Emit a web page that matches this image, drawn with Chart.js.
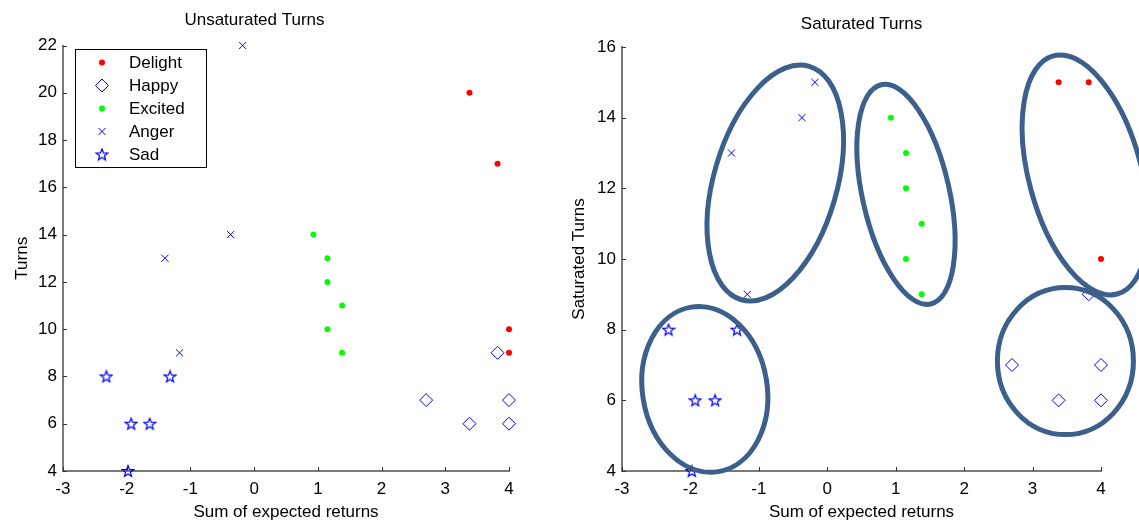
<!DOCTYPE html>
<html>
<head>
<meta charset="utf-8">
<script src="https://cdn.jsdelivr.net/npm/chart.js@4.4.1/dist/chart.umd.min.js"></script>
<style>
  body { margin: 0; background: #fff; }
  .wrap { position: absolute; top: 0; height: 521px; }
  #leftWrap { left: 0; width: 560px; }
  #rightWrap { left: 560px; width: 579px; }
</style>
</head>
<body>
<div class="wrap" id="leftWrap"><canvas id="unsatCanvas"></canvas></div>
<div class="wrap" id="rightWrap"><canvas id="satCanvas"></canvas></div>
<script>
// ── Data ── //
const xTickValues = [-3, -2, -1, 0, 1, 2, 3, 4];
const unsatYTicks = [4, 6, 8, 10, 12, 14, 16, 18, 20, 22];
const satYTicks = [4, 6, 8, 10, 12, 14, 16];

const delightX = [3.38, 3.82, 4, 4];
const delightUnsat = [20, 17, 10, 9];
const delightSat = [15, 15, 10, 9];

const happyX = [3.82, 2.7, 3.38, 4, 4];
const happyY = [9, 7, 6, 7, 6];

const excitedX = [0.93, 1.15, 1.15, 1.38, 1.15, 1.38];
const excitedY = [14, 13, 12, 11, 10, 9];

const angerX = [-0.18, -0.37, -1.4, -1.17];
const angerUnsat = [22, 14, 13, 9];
const angerSat = [15, 14, 13, 9];

const sadX = [-2.32, -1.32, -1.93, -1.64, -1.98];
const sadY = [8, 8, 6, 6, 4];

// cluster ellipses on the saturated plot (data units, angle in degrees)
const ellipseCx = [-0.76, 1.15, 3.77, -1.79, 3.48];
const ellipseCy = [12.15, 11.83, 12.38, 6.31, 7.11];
const ellipseRx = [0.90, 0.635, 0.823, 0.911, 0.994];
const ellipseRy = [3.44, 3.18, 3.49, 2.36, 2.08];
const ellipseAngle = [16.2, -12.7, -15, -9.4, 0];

const FONT = '"Liberation Sans", Arial, sans-serif';
const AXIS_GREY = '#7a7a7a';

// ── Pentagram marker ── //
function makeStar(size, color) {
  const c = document.createElement('canvas');
  c.width = c.height = size;
  const g = c.getContext('2d');
  const r = size / 2 - 1;
  const ri = r * 0.42;
  g.beginPath();
  for (let k = 0; k < 10; k++) {
    const rr = k % 2 ? ri : r;
    const a = -Math.PI / 2 + k * Math.PI / 5;
    g.lineTo(size / 2 + rr * Math.cos(a), size / 2 + 0.5 + rr * Math.sin(a));
  }
  g.closePath();
  g.strokeStyle = color;
  g.lineWidth = 1.2;
  g.stroke();
  return c;
}
const starImg = makeStar(14, '#0000ff');

function pts(xs, ys) {
  return xs.map((x, i) => ({ x: x, y: ys[i] }));
}

function emotionSets(delY, angY) {
  return [
    { label: 'Delight', data: pts(delightX, delY), pointStyle: 'circle', pointRadius: 3,
      backgroundColor: '#ff0000', borderColor: '#ff0000', borderWidth: 0 },
    { label: 'Happy', data: pts(happyX, happyY), pointStyle: 'rectRot', pointRadius: 6.5,
      backgroundColor: 'rgba(0,0,0,0)', borderColor: '#0000ff', borderWidth: 1 },
    { label: 'Excited', data: pts(excitedX, excitedY), pointStyle: 'circle', pointRadius: 3,
      backgroundColor: '#00ff00', borderColor: '#00ff00', borderWidth: 0 },
    { label: 'Anger', data: pts(angerX, angY), pointStyle: 'crossRot', pointRadius: 5,
      backgroundColor: '#0000ff', borderColor: '#0000ff', borderWidth: 1 },
    { label: 'Sad', data: pts(sadX, sadY), pointStyle: starImg, pointRadius: 7,
      backgroundColor: '#0000ff', borderColor: '#0000ff', borderWidth: 1 },
  ].map(ds => Object.assign(ds, { pointHoverRadius: ds.pointRadius, clip: false }));
}

// ── Inward tick marks ── //
const innerTicks = {
  id: 'innerTicks',
  afterDraw(chart) {
    const { ctx, chartArea, scales } = chart;
    ctx.save();
    ctx.strokeStyle = '#333';
    ctx.lineWidth = 1;
    ctx.beginPath();
    scales.x.ticks.forEach(t => {
      const px = Math.round(scales.x.getPixelForValue(t.value)) + 0.5;
      ctx.moveTo(px, chartArea.bottom);
      ctx.lineTo(px, chartArea.bottom - 4);
    });
    scales.y.ticks.forEach(t => {
      const py = Math.round(scales.y.getPixelForValue(t.value)) + 0.5;
      ctx.moveTo(chartArea.left, py);
      ctx.lineTo(chartArea.left + 4, py);
    });
    ctx.stroke();
    ctx.restore();
  }
};

// ── Legend box (left plot) ── //
const legendBox = {
  id: 'legendBox',
  afterDraw(chart) {
    const { ctx, chartArea } = chart;
    const left = chartArea.left + 12;
    const top = chartArea.top + 3.5;
    ctx.save();
    ctx.fillStyle = '#fff';
    ctx.fillRect(left, top, 131, 118);
    ctx.strokeStyle = '#000';
    ctx.lineWidth = 1;
    ctx.strokeRect(left + 0.5, top + 0.5, 131, 118);
    chart.data.datasets.forEach((ds, i) => {
      const y = top + 13.5 + i * 23;
      ctx.fillStyle = ds.backgroundColor;
      ctx.strokeStyle = ds.borderColor;
      ctx.lineWidth = ds.borderWidth;
      Chart.helpers.drawPoint(ctx, {
        pointStyle: ds.pointStyle, radius: ds.pointRadius,
        borderWidth: ds.borderWidth, rotation: 0
      }, left + 27, y);
      ctx.fillStyle = '#000';
      ctx.font = '17px ' + FONT;
      ctx.textBaseline = 'middle';
      ctx.textAlign = 'left';
      ctx.fillText(ds.label, left + 54, y + 1);
    });
    ctx.restore();
  }
};

// ── Cluster ellipses (right plot) ── //
const clusterEllipses = {
  id: 'clusterEllipses',
  afterDatasetsDraw(chart) {
    const { ctx, scales: { x, y } } = chart;
    ctx.save();
    ctx.strokeStyle = '#3d5f8c';
    ctx.lineWidth = 5;
    ellipseCx.forEach((cx, i) => {
      const px = x.getPixelForValue(cx);
      const py = y.getPixelForValue(ellipseCy[i]);
      const rx = Math.abs(x.getPixelForValue(cx + ellipseRx[i]) - px);
      const ry = Math.abs(y.getPixelForValue(ellipseCy[i] + ellipseRy[i]) - py);
      ctx.beginPath();
      ctx.ellipse(px, py, rx, ry, ellipseAngle[i] * Math.PI / 180, 0, Math.PI * 2);
      ctx.stroke();
    });
    ctx.restore();
  }
};

// ── Shared options ── //
function buildOptions(cfg) {
  return {
    responsive: true,
    maintainAspectRatio: false,
    animation: false,
    events: [],
    layout: { padding: { left: 0, right: cfg.rightPad, top: 0, bottom: -1.5 } },
    scales: {
      x: {
        type: 'linear',
        min: -3,
        max: 4,
        afterBuildTicks: s => { s.ticks = xTickValues.map(v => ({ value: v })); },
        afterFit: s => { s.height = 51.5; },
        grid: { display: false, drawTicks: false },
        border: { display: true, color: AXIS_GREY, width: 2 },
        ticks: { color: '#000', font: { family: FONT, size: 17 }, padding: 8, maxRotation: 0 },
        title: {
          display: true, text: 'Sum of expected returns', color: '#000',
          font: { family: FONT, size: 17 }, padding: { top: 0, bottom: 0 },
        },
      },
      y: {
        type: 'linear',
        min: cfg.yTicks[0],
        max: cfg.yTicks[cfg.yTicks.length - 1],
        afterBuildTicks: s => { s.ticks = cfg.yTicks.map(v => ({ value: v })); },
        afterFit: s => { s.width = cfg.yWidth; },
        grid: { display: false, drawTicks: false },
        border: { display: true, color: AXIS_GREY, width: 2 },
        ticks: { color: '#000', font: { family: FONT, size: 17 }, padding: 6 },
        title: {
          display: true, text: cfg.yTitle, color: '#000',
          font: { family: FONT, size: 17 }, padding: { top: cfg.yTitlePad, bottom: 0 },
        },
      },
    },
    plugins: {
      legend: { display: false },
      tooltip: { enabled: false },
      title: {
        display: true, text: cfg.title, color: '#000', fullSize: cfg.fullSize,
        font: { family: FONT, size: 17, weight: 'normal' },
        padding: { top: cfg.titleTop, bottom: cfg.titleBottom },
      },
    },
  };
}

// ── Unsaturated Turns ── //
new Chart(document.getElementById('unsatCanvas'), {
  type: 'scatter',
  data: { datasets: emotionSets(delightUnsat, angerUnsat) },
  options: buildOptions({
    title: 'Unsaturated Turns', yTitle: 'Turns', yTicks: unsatYTicks,
    rightPad: 51, yWidth: 63, yTitlePad: 12.5, fullSize: true,
    titleTop: 9.8, titleBottom: 15.3,
  }),
  plugins: [innerTicks, legendBox],
});

// ── Saturated Turns ── //
new Chart(document.getElementById('satCanvas'), {
  type: 'scatter',
  data: { datasets: emotionSets(delightSat, angerSat) },
  options: buildOptions({
    title: 'Saturated Turns', yTitle: 'Saturated Turns', yTicks: satYTicks,
    rightPad: 38, yWidth: 62, yTitlePad: 8.8, fullSize: false,
    titleTop: 13.8, titleBottom: 12.8,
  }),
  plugins: [innerTicks, clusterEllipses],
});
</script>
</body>
</html>
